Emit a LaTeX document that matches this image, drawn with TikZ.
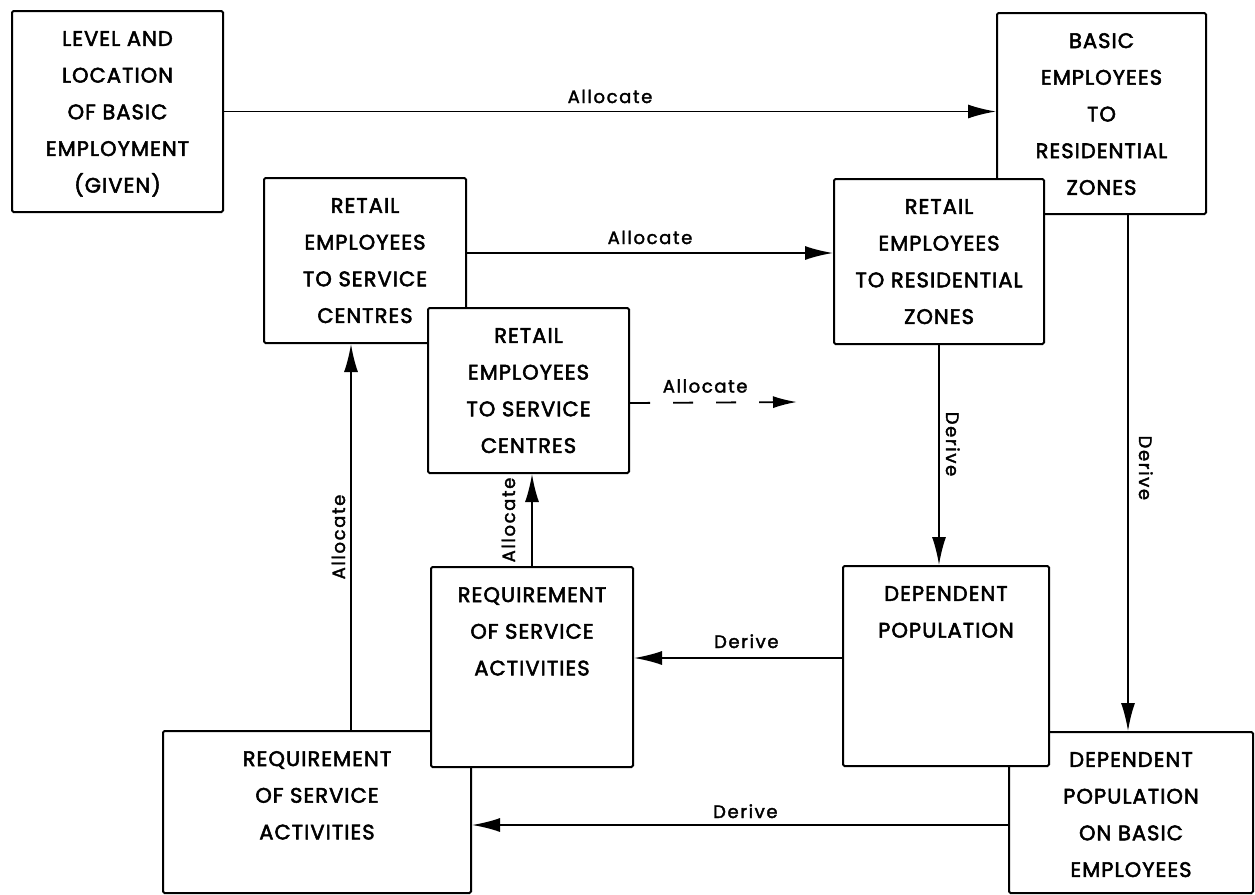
\documentclass[tikz,border=0pt]{standalone}
\usepackage{fontspec}
\setmainfont{Poppins}[FakeBold=2.5, LetterSpace=5]
\newfontfamily\edgefont{Poppins}[FakeBold=2, LetterSpace=9]
\usetikzlibrary{arrows.meta}

\begin{document}
\begin{tikzpicture}[x=1pt, y=-1pt,
  box/.style={draw, line width=2pt, fill=white, rounded corners=1.5pt,
    inner sep=0pt, anchor=north west},
  boxtext/.style={anchor=north, align=center, inner sep=0pt,
    font=\fontsize{21}{36.7}\selectfont, yshift=-21pt},
  conn/.style={line width=1.8pt, -{Latex[length=28pt, width=14pt]}},
  dashconn/.style={line width=1.8pt, dash pattern=on 20pt off 23pt,
    -{Latex[length=24pt, width=12pt]}},
  edgelabel/.style={font={\edgefont\fontsize{18}{20}\selectfont},
    inner sep=0pt, anchor=base},
]
\fill[white] (0,0) rectangle (1255,894);
\useasboundingbox (0,0) rectangle (1255,894);

% boxes, later ones drawn over the ones they overlap
\node[box, minimum width=211pt, minimum height=201pt] (lvl) at (11,10) {};
\node[box, minimum width=209pt, minimum height=201pt] (basic) at (996,12) {};
\node[box, minimum width=210pt, minimum height=165pt] (rres) at (833,178) {};
\node[box, minimum width=202pt, minimum height=165pt] (rsc) at (263,177) {};
\node[box, minimum width=201pt, minimum height=165pt] (frsc) at (427,307) {};
\node[box, minimum width=308pt, minimum height=162pt] (blreq) at (162,730) {};
\node[box, minimum width=202pt, minimum height=200pt] (mreq) at (430,566) {};
\node[box, minimum width=244pt, minimum height=161pt] (dbasic) at (1008,731) {};
\node[box, minimum width=206pt, minimum height=200pt] (dpop) at (842,565) {};

% box texts
\node[boxtext] (lvl-t) at (lvl.north) {LEVEL AND\\LOCATION\\OF BASIC\\EMPLOYMENT\\(GIVEN)};
\node[boxtext] (basic-t) at (basic.north) {BASIC\\EMPLOYEES\\TO\\RESIDENTIAL\\ZONES};
\node[boxtext] (rres-t) at (rres.north) {RETAIL\\EMPLOYEES\\TO RESIDENTIAL\\ZONES};
\node[boxtext] (rsc-t) at (rsc.north) {RETAIL\\EMPLOYEES\\TO SERVICE\\CENTRES};
\node[boxtext] (frsc-t) at (frsc.north) {RETAIL\\EMPLOYEES\\TO SERVICE\\CENTRES};
\node[boxtext] (blreq-t) at (blreq.north) {REQUIREMENT\\OF SERVICE\\ACTIVITIES};
\node[boxtext] (mreq-t) at (mreq.north) {REQUIREMENT\\OF SERVICE\\ACTIVITIES};
\node[boxtext] (dbasic-t) at (dbasic.north) {DEPENDENT\\POPULATION\\ON BASIC\\EMPLOYEES};
\node[boxtext] (dpop-t) at (dpop.north) {DEPENDENT\\POPULATION};

% horizontal connectors
\draw[conn] (lvl.east) -- node[edgelabel, midway, yshift=8.5pt] {Allocate} (lvl.east -| basic.west);

\coordinate (a0) at ([yshift=7.5pt]rsc.east);
\draw[conn] (a0) -- node[edgelabel, midway, yshift=9pt] {Allocate} (a0 -| rres.west);

\coordinate (d0) at ([yshift=-12.5pt]frsc.east);
\coordinate (dend) at (797,402);
\draw[dashconn] (d0) -- node[edgelabel, pos=0.45, yshift=10pt] {Allocate} (dend);

\coordinate (e0) at ([yshift=8pt]dpop.west);
\draw[conn] (e0) -- node[edgelabel, pos=0.46, yshift=10pt] {Derive} (e0 -| mreq.east);

\coordinate (f0) at ([yshift=-12.5pt]dbasic.west);
\draw[conn] (f0) -- node[edgelabel, pos=0.49, yshift=7pt] {Derive} (f0 -| blreq.east);

% vertical connectors
\draw[conn] (rres.south) -- node[edgelabel, pos=0.45, xshift=7pt, rotate=-90] {Derive} (rres.south |- dpop.north);

\coordinate (b0) at ([xshift=26.5pt]basic.south);
\draw[conn] (b0) -- node[edgelabel, pos=0.49, xshift=11pt, rotate=-90] {Derive} (b0 |- dbasic.north);

\draw[conn] (mreq.north) -- node[edgelabel, pos=0.5, xshift=-17pt, rotate=90] {Allocate} (mreq.north |- frsc.south);

\coordinate (c0) at ([xshift=34pt]blreq.north);
\draw[conn] (c0) -- node[edgelabel, pos=0.5, xshift=-6pt, rotate=90] {Allocate} (c0 |- rsc.south);
\end{tikzpicture}
\end{document}
